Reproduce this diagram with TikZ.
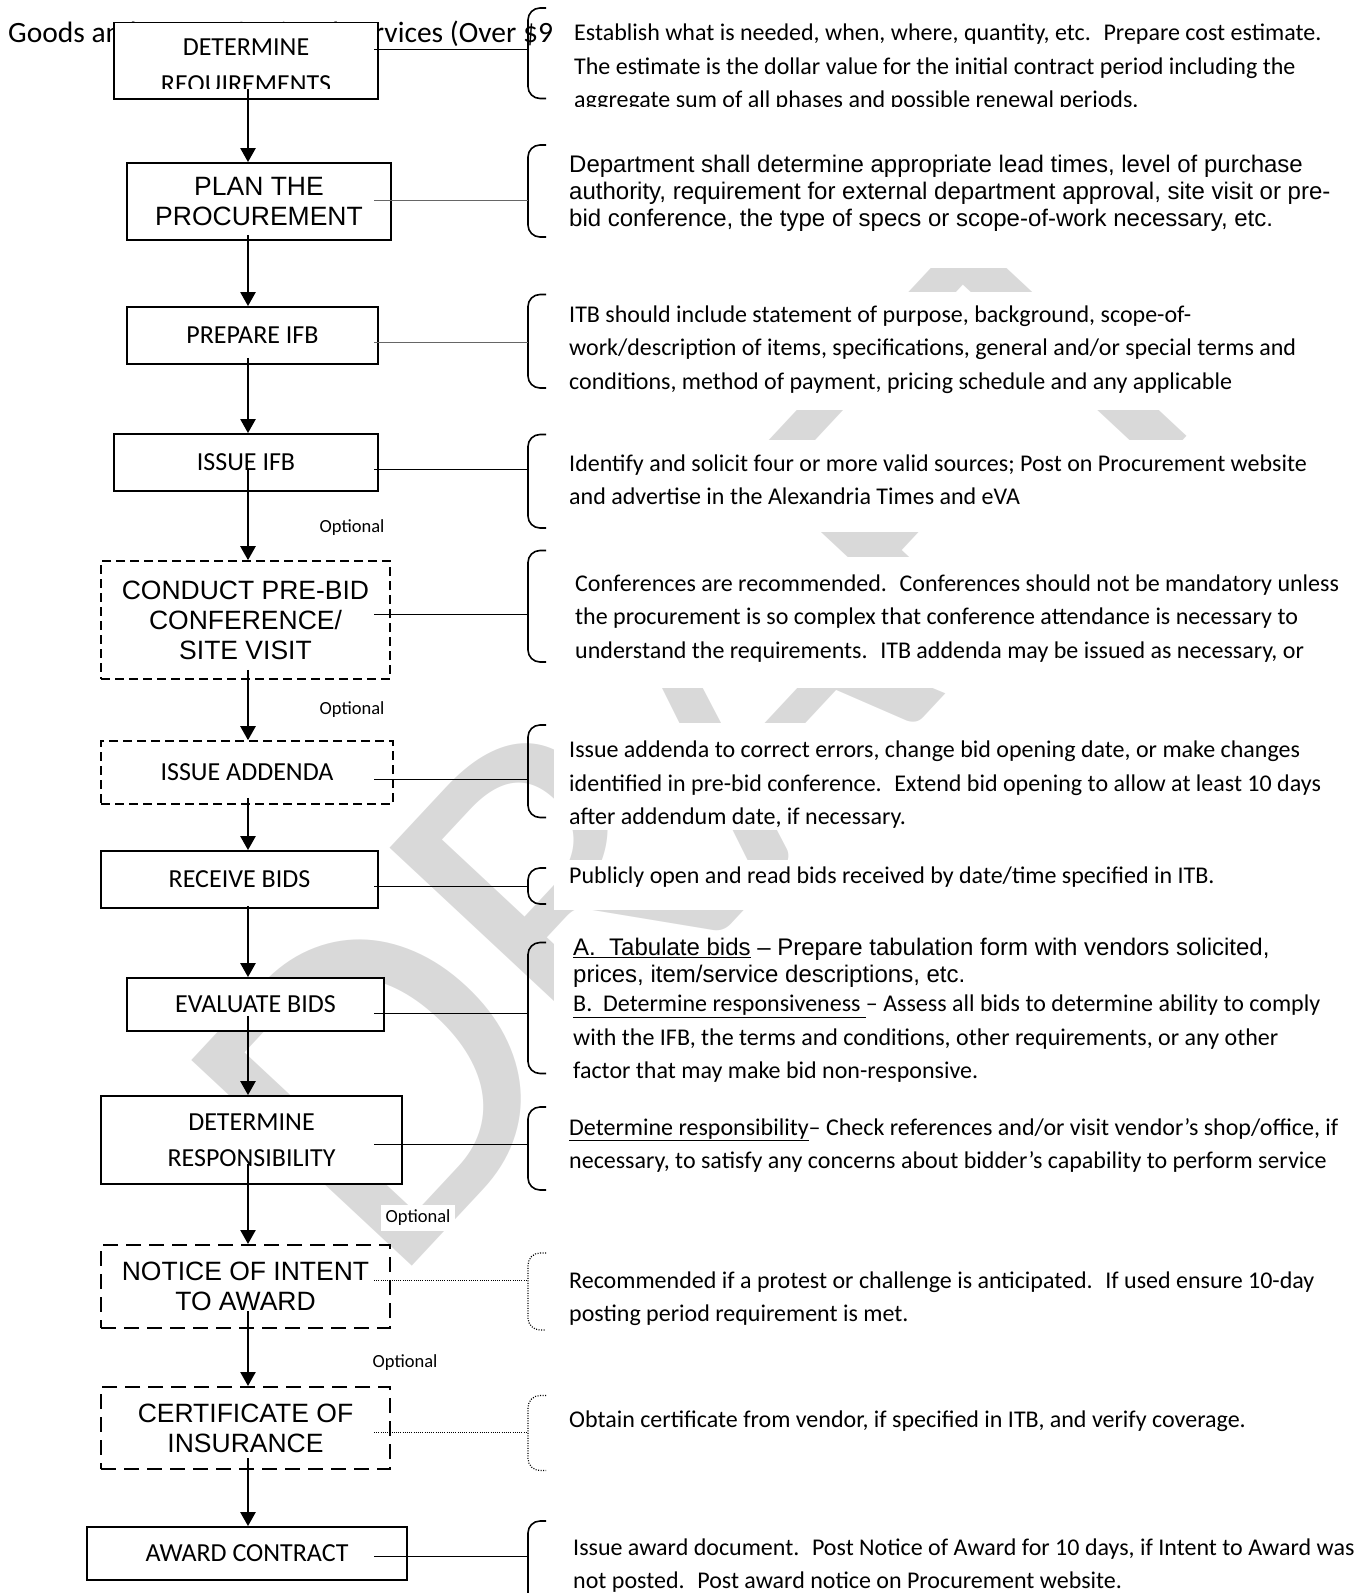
\documentclass[tikz,border=0pt]{standalone}
\usepackage{fontspec}
\setmainfont{Carlito}
\newfontfamily\arialfont{Liberation Sans}
\usetikzlibrary{arrows.meta,calc}

\tikzset{
  stepbox/.style={draw, line width=1.8pt, fill=white, inner sep=0pt, align=center},
  optbox/.style={stepbox, line width=1.6pt, dash pattern=on 9pt off 5pt},
  longbox/.style={stepbox, line width=2pt, dash pattern=on 15pt off 8pt},
  calbox/.style={font=\fontsize{26}{36.5}\selectfont},
  arbox/.style={font=\arialfont\fontsize{26.5}{30}\selectfont},
  flow/.style={line width=2.4pt, -{Triangle[length=14pt,width=15pt]}},
  tie/.style={line width=0.9pt},
  greytie/.style={line width=0.9pt, black!60},
  dottie/.style={line width=0.8pt, dash pattern=on 1pt off 1.2pt},
  brace/.style={line width=1.6pt, rounded corners=12pt},
  dotbrace/.style={line width=1.2pt, rounded corners=12pt, dash pattern=on 1pt off 1.5pt},
  note/.style={anchor=north west, inner sep=0pt, align=left, font=\fontsize{24}{33.5}\selectfont},
  arnote/.style={note, font=\arialfont\fontsize{24}{27}\selectfont},
  optional/.style={fill=white, inner sep=5pt, font=\fontsize{18.5}{20}\selectfont},
}

\begin{document}
\begin{tikzpicture}[x=1pt,y=-1pt]
  %%%%% START %%%%%
  \useasboundingbox (0,0) rectangle (1369,1593);

  % watermark
  \node[rotate=47, anchor=base west, inner sep=0pt, text=black!15,
        font=\fontsize{470}{470}\selectfont] (mark) at (390,1290) {DRAFT};

  \node[anchor=base west, inner sep=0pt, font=\fontsize{29.5}{31}\selectfont] (title) at (8,42.5)
        {Goods and Nonprofessional Services (Over \$9};

  % text boxes on the right
  \foreach \ya/\yb in {0/106, 140/268, 292/410, 440/532, 557/688, 723/830, 860/910,
                       935/1085, 1100/1200, 1245/1335, 1390/1470, 1515/1593}
    \fill[white] (554,\ya) rectangle (1369,\yb);

  % brackets
  \foreach \k/\ya/\ym/\yb in {req/8/49/98.5, plan/145/200/237, prep/294.5/342/388,
                              issue/434.5/469/528, prebid/550.5/614.5/662,
                              addenda/725/779/817.5, receive/868/886.5/904,
                              evaluate/942.5/1013.5/1073.5, respons/1107/1144.5/1190,
                              award/1521/1556/1640}
  {
    \draw[brace] (546,\ya) -- (528,\ya) -- (528,\yb) -- (546,\yb);
    \coordinate (k\k) at (528,\ym);
  }
  \foreach \k/\ya/\ym/\yb in {intent/1253/1280/1330, insure/1395.5/1432/1470.5}
  {
    \draw[dotbrace] (546,\ya) -- (528,\ya) -- (528,\yb) -- (546,\yb);
    \coordinate (k\k) at (528,\ym);
  }

  % steps
  \node[stepbox, minimum width=264pt, minimum height=76.5pt] (req) at (246,60.75) {};
  \begin{scope}
    \clip (114,24) rectangle (378,88);
    \node[calbox, align=center] (reqtext) at (246,67.5) {DETERMINE\\REQUIREMENTS};
  \end{scope}
  \node[stepbox, arbox, minimum width=264pt, minimum height=77pt] (plan) at (259,201.5) {PLAN THE\\PROCUREMENT};
  \node[stepbox, calbox, minimum width=251pt, minimum height=57pt] (prep) at (252.5,335.5) {PREPARE IFB};
  \node[stepbox, calbox, minimum width=264pt, minimum height=57pt] (issue) at (246,462.5) {ISSUE IFB};
  \node[optbox, arbox, minimum width=289pt, minimum height=118pt] (prebid) at (245.5,620) {CONDUCT PRE-BID\\CONFERENCE/\\SITE VISIT};
  \node[optbox, calbox, minimum width=292pt, minimum height=63pt] (addenda) at (247,772.5) {ISSUE ADDENDA};
  \node[stepbox, calbox, minimum width=277pt, minimum height=57pt] (receive) at (239.5,879.5) {RECEIVE BIDS};
  \node[stepbox, calbox, minimum width=257pt, minimum height=53pt] (evaluate) at (255.5,1004.5) {EVALUATE BIDS};
  \node[stepbox, calbox, minimum width=301pt, minimum height=88pt] (respons) at (251.5,1140) {DETERMINE\\RESPONSIBILITY};
  \node[longbox, arbox, minimum width=289pt, minimum height=83pt] (intent) at (245.5,1286.5) {NOTICE OF INTENT\\TO AWARD};
  \node[longbox, arbox, minimum width=289pt, minimum height=82pt] (insure) at (245.5,1428) {CERTIFICATE OF\\INSURANCE};
  \node[stepbox, calbox, minimum width=320pt, minimum height=53pt] (award) at (247,1553.5) {AWARD CONTRACT};

  \coordinate (spine) at (248,0);
  \coordinate (tiex) at (374,0);

  % ties to the brackets
  \foreach \k in {req, issue, prebid, addenda, receive, evaluate, respons, award}
    \draw[tie] (tiex |- k\k) -- (k\k);
  \foreach \k in {plan, prep}
    \draw[greytie] (tiex |- k\k) -- (k\k);
  \foreach \k in {intent, insure}
    \draw[dottie] (tiex |- k\k) -- (k\k);

  % flow
  \foreach \a/\b/\up in {req/plan/11, plan/prep/6, prep/issue/7, issue/prebid/24,
                         prebid/addenda/10, addenda/receive/7, receive/evaluate/3,
                         evaluate/respons/16, respons/intent/21, intent/insure/18,
                         insure/award/12}
    \draw[flow] ($(\a.south -| spine)+(0,-\up)$) -- (\b.north -| spine);

  \node[optional] (opt1) at (352,528) {Optional};
  \node[optional] (opt2) at (352,710) {Optional};
  \node[optional] (opt3) at (418,1218) {Optional};
  \node[optional] (opt4) at (405,1363) {Optional};

  % notes
  \begin{scope}
    \clip (554,0) rectangle (1369,106);
    \node[note] (dreq) at (574,17) {\strut Establish what is needed, when, where, quantity, etc.~ Prepare cost estimate.\\
      The estimate is the dollar value for the initial contract period including the\\
      aggregate sum of all phases and possible renewal periods.};
  \end{scope}
  \node[arnote] (dplan) at (569,153) {\strut Department shall determine appropriate lead times, level of purchase\\
    authority, requirement for external department approval, site visit or pre-\\
    bid conference, the type of specs or scope-of-work necessary, etc.};
  \node[note] (dprep) at (569,298.5) {\strut ITB should include statement of purpose, background, scope-of-\\
    work/description of items, specifications, general and/or special terms and\\
    conditions, method of payment, pricing schedule and any applicable};
  \node[note] (dissue) at (569,447.5) {\strut Identify and solicit four or more valid sources; Post on Procurement website\\
    and advertise in the Alexandria Times and eVA};
  \node[note] (dprebid) at (575,567.5) {\strut Conferences are recommended.~ Conferences should not be mandatory unless\\
    the procurement is so complex that conference attendance is necessary to\\
    understand the requirements.~ ITB addenda may be issued as necessary, or};
  \node[note] (daddenda) at (569,734) {\strut Issue addenda to correct errors, change bid opening date, or make changes\\
    identified in pre-bid conference.~ Extend bid opening to allow at least 10 days\\
    after addendum date, if necessary.};
  \node[note] (dreceive) at (569,860) {\strut Publicly open and read bids received by date/time specified in ITB.};
  \node[arnote] (devaluate) at (573,936) {\strut\underline{A.~ Tabulate bids} – Prepare tabulation form with vendors solicited,\\
    prices, item/service descriptions, etc.};
  \node[note] (devalb) at (573,988) {\strut\underline{B.~ Determine responsiveness }– Assess all bids to determine ability to comply\\
    with the IFB, the terms and conditions, other requirements, or any other\\
    factor that may make bid non-responsive.};
  \node[note] (drespons) at (569,1111.5) {\strut\underline{Determine responsibility}– Check references and/or visit vendor’s shop/office, if\\
    necessary, to satisfy any concerns about bidder’s capability to perform service};
  \node[note] (dintent) at (569,1264.5) {\strut Recommended if a protest or challenge is anticipated.~ If used ensure 10-day\\
    posting period requirement is met.};
  \node[note] (dinsure) at (569,1403.5) {\strut Obtain certificate from vendor, if specified in ITB, and verify coverage.};
  \node[note] (daward) at (573,1531.5) {\strut Issue award document.~ Post Notice of Award for 10 days, if Intent to Award was\\
    not posted.~ Post award notice on Procurement website.};
  %%%%% END %%%%%
\end{tikzpicture}
\end{document}
